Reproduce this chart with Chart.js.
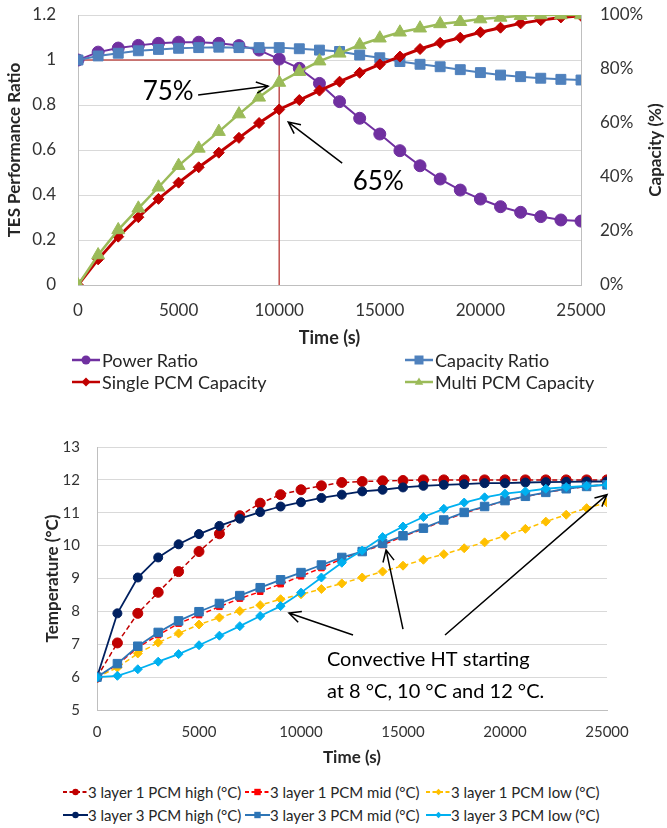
<!DOCTYPE html>
<html>
<head>
<meta charset="utf-8">
<script src="https://cdn.jsdelivr.net/npm/chart.js@4.4.1/dist/chart.umd.min.js"></script>
<style>
  body { margin: 0; background: #fff; font-family: Lato, sans-serif; }
  #page { position: relative; width: 667px; height: 828px; overflow: hidden; background: #fff; }
  canvas { position: absolute; left: 0; }
  .key { position: absolute; display: flex; align-items: center; white-space: nowrap; color: #262626; transform: translateY(-50%); }
  .key svg { flex: none; display: block; }
</style>
</head>
<body>
<div id="page">
  <canvas id="ratioChart" width="667" height="350" style="top:0"></canvas>
  <canvas id="tempChart" width="667" height="338" style="top:430px"></canvas>
</div>
<script>
// time steps (s)
const times = [0, 1000, 2000, 3000, 4000, 5000, 6000, 7000, 8000, 9000, 10000, 11000, 12000,
  13000, 14000, 15000, 16000, 17000, 18000, 19000, 20000, 21000, 22000, 23000, 24000, 25000];

// TES performance ratios (left axis)
const powerRatio = [1.00, 1.035, 1.053, 1.065, 1.074, 1.079, 1.079, 1.074, 1.064, 1.044, 1.004, 0.963, 0.896,
  0.815, 0.741, 0.671, 0.597, 0.530, 0.471, 0.422, 0.382, 0.348, 0.323, 0.304, 0.289, 0.284];
const capacityRatio = [1.00, 1.018, 1.030, 1.041, 1.047, 1.052, 1.055, 1.057, 1.055, 1.055, 1.055, 1.050, 1.044,
  1.038, 1.022, 1.010, 0.993, 0.981, 0.970, 0.957, 0.944, 0.933, 0.926, 0.919, 0.914, 0.911];

// stored capacity, % (right axis)
const singlePcmCapacity = [0, 9.5, 17.9, 25.1, 31.9, 37.9, 43.6, 49.0, 54.5, 60.0, 65.0, 68.5, 72.0,
  75.3, 78.6, 81.7, 84.6, 87.4, 89.7, 91.6, 93.6, 95.3, 96.9, 98.1, 99.1, 99.7];
const multiPcmCapacity = [0, 11.1, 20.4, 28.4, 36.2, 44.2, 50.6, 56.8, 63.3, 69.5, 75.0, 79.0, 82.9,
  85.8, 88.9, 91.4, 93.6, 95.1, 96.7, 97.5, 98.5, 99.1, 99.7, 100, 100, 100];

// node temperatures (°C)
const onePcmHigh = [6, 7.04, 7.94, 8.58, 9.21, 9.82, 10.36, 10.91, 11.29, 11.55, 11.70, 11.82, 11.92,
  11.95, 11.97, 11.98, 12.0, 12.0, 12.0, 12.0, 12.0, 12.0, 12.0, 12.0, 12.0, 12.0];
const onePcmMid = [6, 6.38, 6.90, 7.28, 7.63, 7.89, 8.14, 8.39, 8.60, 8.83, 9.07, 9.32, 9.60,
  9.82, 10.02, 10.28, 10.51, 10.76, 10.99, 11.18, 11.36, 11.49, 11.61, 11.72, 11.80, 11.86];
const onePcmLow = [6, 6.29, 6.72, 7.05, 7.33, 7.60, 7.81, 8.01, 8.19, 8.37, 8.52, 8.68, 8.85,
  9.03, 9.21, 9.39, 9.57, 9.74, 9.92, 10.10, 10.30, 10.51, 10.73, 10.94, 11.14, 11.31];
const threePcmHigh = [6, 7.94, 9.03, 9.64, 10.04, 10.35, 10.60, 10.82, 11.02, 11.19, 11.32, 11.45, 11.55,
  11.65, 11.70, 11.77, 11.82, 11.85, 11.87, 11.90, 11.90, 11.92, 11.93, 11.94, 11.95, 11.95];
const threePcmMid = [6, 6.41, 6.94, 7.36, 7.71, 7.99, 8.24, 8.48, 8.72, 8.96, 9.18, 9.41, 9.64,
  9.82, 10.07, 10.30, 10.53, 10.78, 11.01, 11.19, 11.37, 11.50, 11.62, 11.73, 11.80, 11.85];
const threePcmLow = [6, 6.04, 6.24, 6.47, 6.70, 6.97, 7.26, 7.55, 7.86, 8.16, 8.57, 9.03, 9.48,
  9.85, 10.26, 10.58, 10.87, 11.12, 11.31, 11.47, 11.58, 11.65, 11.73, 11.78, 11.82, 11.85];

const pts = vals => vals.map((v, i) => ({ x: times[i], y: v }));

Chart.defaults.font.family = 'Lato, sans-serif';
Chart.defaults.color = '#333';

// guide lines, arrows and free text placed in data units
const notes = {
  id: 'notes',
  beforeDatasetsDraw(chart, args, opts) {
    const ctx = chart.ctx;
    (opts.guides || []).forEach(g => {
      const xs = chart.scales[g.xAxis || 'x'], ys = chart.scales[g.yAxis || 'y'];
      ctx.save();
      ctx.strokeStyle = g.color;
      ctx.lineWidth = g.width;
      ctx.beginPath();
      ctx.moveTo(xs.getPixelForValue(g.from[0]), ys.getPixelForValue(g.from[1]));
      ctx.lineTo(xs.getPixelForValue(g.to[0]), ys.getPixelForValue(g.to[1]));
      ctx.stroke();
      ctx.restore();
    });
  },
  afterDatasetsDraw(chart, args, opts) {
    const ctx = chart.ctx;
    const xs = chart.scales.x, ys = chart.scales.y;
    (opts.arrows || []).forEach(a => {
      const x1 = xs.getPixelForValue(a.from[0]), y1 = ys.getPixelForValue(a.from[1]);
      const x2 = xs.getPixelForValue(a.to[0]), y2 = ys.getPixelForValue(a.to[1]);
      const ang = Math.atan2(y2 - y1, x2 - x1), head = 13, spread = 0.45;
      ctx.save();
      ctx.strokeStyle = '#000';
      ctx.lineWidth = 1.5;
      ctx.beginPath();
      ctx.moveTo(x1, y1);
      ctx.lineTo(x2, y2);
      ctx.moveTo(x2 - head * Math.cos(ang - spread), y2 - head * Math.sin(ang - spread));
      ctx.lineTo(x2, y2);
      ctx.lineTo(x2 - head * Math.cos(ang + spread), y2 - head * Math.sin(ang + spread));
      ctx.stroke();
      ctx.restore();
    });
    (opts.texts || []).forEach(t => {
      ctx.save();
      ctx.fillStyle = '#000';
      ctx.font = t.size + 'px Lato, sans-serif';
      ctx.textAlign = t.align || 'center';
      ctx.textBaseline = 'middle';
      ctx.fillText(t.text, xs.getPixelForValue(t.at[0]), ys.getPixelForValue(t.at[1]));
      ctx.restore();
    });
  },
  afterDraw(chart, args, opts) {
    // right-hand axis title, reading bottom to top
    if (!opts.rightTitle) return;
    const ctx = chart.ctx, s = chart.scales[opts.rightTitle.axis], area = chart.chartArea;
    ctx.save();
    ctx.translate(s.right - 11, (area.top + area.bottom) / 2);
    ctx.rotate(-Math.PI / 2);
    ctx.font = 'bold 17px Lato, sans-serif';
    ctx.fillStyle = '#262626';
    ctx.textAlign = 'center';
    ctx.textBaseline = 'middle';
    ctx.fillText(opts.rightTitle.text, 0, 0);
    ctx.restore();
  }
};

// fixed axis width; drop the label overhang so layout.padding sets the plot top
const fixWidth = w => s => { s.width = w; s.paddingTop = 0; s.paddingBottom = 0; };

function series(label, vals, color, style, radius, extra) {
  return Object.assign({
    label, data: pts(vals),
    borderColor: color, backgroundColor: color,
    pointBackgroundColor: color, pointBorderColor: color, pointBorderWidth: 1,
    pointStyle: style, pointRadius: radius, borderWidth: 2, tension: 0
  }, extra || {});
}

const ratioSets = [
  series('Power Ratio', powerRatio, '#7030a0', 'circle', 6, { order: 4 }),
  series('Capacity Ratio', capacityRatio, '#4f81bd', 'rect', 7, { order: 3 }),
  series('Single PCM Capacity', singlePcmCapacity, '#c00000', 'rectRot', 5.5, { yAxisID: 'y1', borderWidth: 3, order: 2 }),
  series('Multi PCM Capacity', multiPcmCapacity, '#9bbb59', 'triangle', 7.5, { yAxisID: 'y1', borderWidth: 2.5, order: 1 })
];

const dash = [5, 3];
const tempSets = [
  series('3 layer 1 PCM high (°C)', onePcmHigh, '#c00000', 'circle', 5, { borderDash: dash, borderWidth: 1.5, order: 6 }),
  series('3 layer 1 PCM mid (°C)', onePcmMid, '#ff0000', 'rect', 4, { borderDash: dash, borderWidth: 1.5, order: 5 }),
  series('3 layer 1 PCM low (°C)', onePcmLow, '#ffc000', 'rectRot', 4.5, { borderDash: dash, borderWidth: 1.5, order: 4 }),
  series('3 layer 3 PCM high (°C)', threePcmHigh, '#002060', 'circle', 4.5, { borderWidth: 1.8, order: 3 }),
  series('3 layer 3 PCM mid (°C)', threePcmMid, '#2e75b6', 'rect', 6, { borderWidth: 1.8, order: 2 }),
  series('3 layer 3 PCM low (°C)', threePcmLow, '#00b0f0', 'rectRot', 4.5, { borderWidth: 1.8, order: 1 })
];

const axisGrey = '#bfbfbf';
const gridGrey = '#d9d9d9';

new Chart(document.getElementById('ratioChart'), {
  type: 'line',
  data: { datasets: ratioSets },
  options: {
    responsive: false,
    animation: false,
    layout: { autoPadding: false, padding: { top: 15, left: 0, right: 0, bottom: 0 } },
    plugins: {
      legend: { display: false },
      tooltip: { enabled: false },
      notes: {
        guides: [
          { from: [0, 1], to: [10000, 1], color: '#c0504d', width: 1.5 },
          { from: [10000, 1], to: [10000, 0], color: '#c0504d', width: 1.5 }
        ],
        arrows: [
          { from: [5970, 0.844], to: [9450, 0.884] },
          { from: [13130, 0.542], to: [10450, 0.724] }
        ],
        texts: [
          { text: '75%', at: [4480, 0.858], size: 26 },
          { text: '65%', at: [14925, 0.458], size: 26 }
        ],
        rightTitle: { axis: 'y1', text: 'Capacity (%)' }
      }
    },
    scales: {
      x: {
        type: 'linear', min: 0, max: 25000,
        ticks: { stepSize: 5000, padding: 15, font: { size: 17 }, maxRotation: 0, callback: v => String(v) },
        grid: { display: false, drawTicks: false },
        border: { color: axisGrey },
        title: { display: true, text: 'Time (s)', color: '#262626', font: { size: 18, weight: 'bold' }, padding: { top: 0, bottom: 1 } },
        afterFit: s => { s.height = 65; }
      },
      y: {
        min: 0, max: 1.2,
        ticks: { stepSize: 0.2, padding: 22, font: { size: 17 }, callback: v => String(+v.toFixed(1)) },
        grid: { color: gridGrey, drawTicks: false },
        border: { color: axisGrey },
        title: { display: true, text: 'TES Performance Ratio', color: '#262626', font: { size: 17, weight: 'bold' }, padding: { top: 4, bottom: 0 } },
        afterFit: fixWidth(78)
      },
      y1: {
        position: 'right', min: 0, max: 100,
        ticks: { stepSize: 20, padding: 19, font: { size: 17 }, callback: v => v + '%' },
        grid: { display: false, drawTicks: false },
        border: { color: axisGrey },
        afterFit: fixWidth(86)
      }
    }
  },
  plugins: [notes]
});

new Chart(document.getElementById('tempChart'), {
  type: 'line',
  data: { datasets: tempSets },
  options: {
    responsive: false,
    animation: false,
    layout: { autoPadding: false, padding: { top: 17, left: 0, right: 60, bottom: 0 } },
    plugins: {
      legend: { display: false },
      tooltip: { enabled: false },
      notes: {
        arrows: [
          { from: [12550, 7.28], to: [9410, 7.95] },
          { from: [15000, 7.46], to: [14170, 9.87] },
          { from: [17060, 7.28], to: [25000, 11.55] }
        ],
        texts: [
          { text: 'Convective HT starting', at: [11270, 6.52], size: 20, align: 'left' },
          { text: 'at 8 °C, 10 °C and 12 °C.', at: [11270, 5.56], size: 20, align: 'left' }
        ]
      }
    },
    scales: {
      x: {
        type: 'linear', min: 0, max: 25000,
        ticks: { stepSize: 5000, padding: 13, font: { size: 15 }, maxRotation: 0, callback: v => String(v) },
        grid: { display: false, drawTicks: false },
        border: { color: axisGrey },
        title: { display: true, text: 'Time (s)', color: '#262626', font: { size: 17, weight: 'bold' }, padding: { top: 0, bottom: 0 } },
        afterFit: s => { s.height = 58; }
      },
      y: {
        min: 5, max: 13,
        ticks: { stepSize: 1, padding: 17, font: { size: 15 } },
        grid: { color: gridGrey, drawTicks: false },
        border: { color: axisGrey },
        title: { display: true, text: 'Temperature (°C)', color: '#262626', font: { size: 17, weight: 'bold' }, padding: { top: 42, bottom: 0 } },
        afterFit: fixWidth(97)
      }
    }
  },
  plugins: [notes]
});

// line-and-marker legend swatches
function keyIcon(ds, w, r, lw) {
  const c = ds.borderColor, h = 16, cy = 8, cx = w / 2;
  let mark = '';
  if (ds.pointStyle === 'circle') {
    mark = `<circle cx="${cx}" cy="${cy}" r="${r}" fill="${c}"/>`;
  } else if (ds.pointStyle === 'rect') {
    mark = `<rect x="${cx - r}" y="${cy - r}" width="${2 * r}" height="${2 * r}" fill="${c}"/>`;
  } else if (ds.pointStyle === 'rectRot') {
    mark = `<polygon points="${cx - r},${cy} ${cx},${cy - r} ${cx + r},${cy} ${cx},${cy + r}" fill="${c}"/>`;
  } else if (ds.pointStyle === 'triangle') {
    mark = `<polygon points="${cx},${cy - r} ${cx + r * 0.95},${cy + r * 0.6} ${cx - r * 0.95},${cy + r * 0.6}" fill="${c}"/>`;
  }
  const dashAttr = ds.borderDash ? `stroke-dasharray="4 2.5"` : '';
  return `<svg width="${w}" height="${h}"><line x1="0" y1="${cy}" x2="${w}" y2="${cy}" stroke="${c}" stroke-width="${lw}" ${dashAttr}/>${mark}</svg>`;
}

function addKey(sets, slots, cfg) {
  const page = document.getElementById('page');
  sets.forEach((ds, i) => {
    const el = document.createElement('div');
    el.className = 'key';
    el.style.left = slots[i][0] + 'px';
    el.style.top = slots[i][1] + 'px';
    el.style.fontSize = cfg.size + 'px';
    el.innerHTML = keyIcon(ds, cfg.w, cfg.r, cfg.lw) + `<span style="margin-left:${cfg.gap}px">${ds.label}</span>`;
    page.appendChild(el);
  });
}

addKey(ratioSets, [[72, 360], [405, 360], [72, 382], [405, 382]], { size: 18, w: 28, r: 4.5, lw: 2.5, gap: 2 });
addKey(tempSets, [[63, 792], [245, 792], [426, 792], [63, 815], [245, 815], [426, 815]], { size: 15, w: 25, r: 3.2, lw: 2, gap: 0 });
</script>
</body>
</html>
